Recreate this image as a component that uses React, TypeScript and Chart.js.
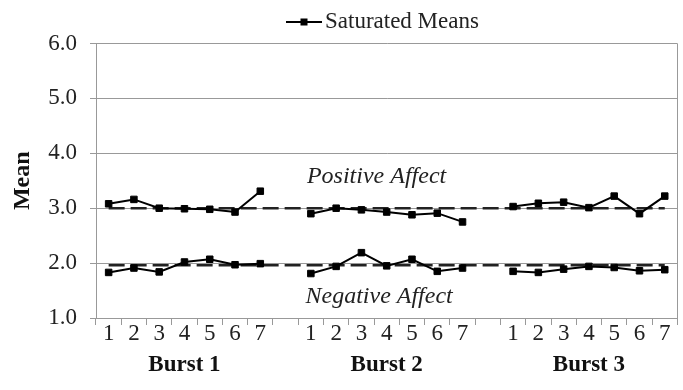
import React, { useEffect, useRef } from "react";
import { Chart, registerables } from "chart.js";

Chart.register(...registerables);

const categories = [
  "1", "2", "3", "4", "5", "6", "7", "",
  "1", "2", "3", "4", "5", "6", "7", "",
  "1", "2", "3", "4", "5", "6", "7",
];
const burstRow = [
  "", "", "", "Burst 1", "", "", "", "",
  "", "", "", "Burst 2", "", "", "", "",
  "", "", "", "Burst 3", "", "", "",
];
const yTicks = [1, 2, 3, 4, 5, 6];

const positiveBurst1 = [3.08, 3.16, 3.0, 2.99, 2.98, 2.93, 3.31];
const positiveBurst2 = [2.9, 3.0, 2.97, 2.93, 2.88, 2.91, 2.75];
const positiveBurst3 = [3.03, 3.09, 3.11, 3.01, 3.22, 2.9, 3.22];
const negativeBurst1 = [1.83, 1.91, 1.84, 2.02, 2.07, 1.97, 1.99];
const negativeBurst2 = [1.81, 1.94, 2.19, 1.95, 2.07, 1.85, 1.91];
const negativeBurst3 = [1.85, 1.83, 1.89, 1.94, 1.92, 1.86, 1.88];
const positiveReference = 3.0;
const negativeReference = 1.96;

const annotations = [
  { text: "Positive Affect", x: 10.6, y: 3.58 },
  { text: "Negative Affect", x: 10.7, y: 1.38 },
];

const FONT = "'Liberation Serif', 'Times New Roman', serif";

function joinBursts(a: number[], b: number[], c: number[]) {
  return [...a, null, ...b, null, ...c];
}

export default function App() {
  const ref = useRef<HTMLCanvasElement | null>(null);

  useEffect(() => {
    if (!ref.current) return;

    const legendImg = document.createElement("canvas");
    legendImg.width = 36;
    legendImg.height = 10;
    const lc = legendImg.getContext("2d")!;
    lc.strokeStyle = "#000";
    lc.lineWidth = 2;
    lc.beginPath();
    lc.moveTo(0, 5);
    lc.lineTo(36, 5);
    lc.stroke();
    lc.fillStyle = "#000";
    lc.fillRect(14.5, 1.5, 7, 7);

    const annotationPlugin = {
      id: "annot",
      afterDatasetsDraw(chart: any) {
        const { ctx, scales } = chart;
        ctx.save();
        ctx.font = `italic 24px ${FONT}`;
        ctx.fillStyle = "#222";
        ctx.textAlign = "center";
        ctx.textBaseline = "middle";
        annotations.forEach((a) => {
          ctx.fillText(a.text, scales.x.getPixelForValue(a.x), scales.y.getPixelForValue(a.y));
        });
        const ca = chart.chartArea;
        ctx.strokeStyle = "#999";
        ctx.lineWidth = 1;
        ctx.beginPath();
        ctx.moveTo(Math.round(ca.right) + 0.5, ca.top);
        ctx.lineTo(Math.round(ca.right) + 0.5, ca.bottom);
        ctx.stroke();
        ctx.restore();
      },
    };

    const n = categories.length;
    const chart = new Chart(ref.current, {
      type: "line",
      data: {
        labels: categories,
        datasets: [
          {
            label: "Saturated Means",
            data: joinBursts(positiveBurst1, positiveBurst2, positiveBurst3),
            borderColor: "#000",
            backgroundColor: "#000",
            borderWidth: 2,
            pointStyle: "rect",
            pointRadius: 4.6,
            pointBorderWidth: 1,
            spanGaps: false,
          },
          {
            label: "neg",
            data: joinBursts(negativeBurst1, negativeBurst2, negativeBurst3),
            borderColor: "#000",
            backgroundColor: "#000",
            borderWidth: 2,
            pointStyle: "rect",
            pointRadius: 4.6,
            pointBorderWidth: 1,
            spanGaps: false,
          },
          {
            label: "posRef",
            data: new Array(n).fill(positiveReference),
            borderColor: "#222",
            borderWidth: 2.5,
            borderDash: [16, 6],
            pointRadius: 0,
          },
          {
            label: "negRef",
            data: new Array(n).fill(negativeReference),
            borderColor: "#222",
            borderWidth: 2.5,
            borderDash: [16, 6],
            pointRadius: 0,
          },
        ],
      },
      options: {
        animation: false,
        responsive: false,
        maintainAspectRatio: false,
        layout: { padding: { left: 6, right: 5, top: 0, bottom: 8 } },
        plugins: {
          legend: {
            position: "top",
            fullSize: false,
            labels: {
              filter: (item: any) => item.datasetIndex === 0,
              usePointStyle: true,
              pointStyle: legendImg as any,
              pointStyleWidth: 19,
              boxHeight: 10,
              color: "#222",
              font: { family: FONT, size: 23 },
              padding: 10.5,
            },
          },
          tooltip: { enabled: false },
        },
        scales: {
          x: {
            type: "category",
            offset: true,
            afterFit: (scale: any) => {
              scale.height = 30;
            },
            grid: {
              offset: true,
              drawOnChartArea: false,
              drawTicks: true,
              tickLength: 7,
              color: "#999",
            },
            border: { color: "#999" },
            ticks: {
              autoSkip: false,
              maxRotation: 0,
              color: "#222",
              padding: -5,
              font: { family: FONT, size: 23 },
            },
          },
          xBurst: {
            type: "category",
            position: "bottom",
            labels: burstRow,
            offset: true,
            afterFit: (scale: any) => {
              scale.height = 34;
            },
            grid: { display: false },
            border: { display: false },
            ticks: {
              autoSkip: false,
              maxRotation: 0,
              color: "#111",
              padding: -5,
              font: { family: FONT, size: 23, weight: "bold" },
            },
          },
          y: {
            min: 1,
            max: 6,
            afterBuildTicks: (scale: any) => {
              scale.ticks = yTicks.map((v) => ({ value: v }));
            },
            afterFit: (scale: any) => {
              scale.width = 90;
            },
            grid: { color: "#999", tickLength: 6 },
            border: { color: "#999" },
            ticks: {
              color: "#222",
              padding: 13,
              font: { family: FONT, size: 23 },
              callback: (v: any) => Number(v).toFixed(1),
            },
            title: {
              display: true,
              text: "Mean",
              color: "#111",
              padding: { top: 2, bottom: 6 },
              font: { family: FONT, size: 24, weight: "bold" },
            },
          },
        },
      },
      plugins: [annotationPlugin],
    } as any);

    return () => chart.destroy();
  }, []);

  return (
    <div style={{ position: "fixed", left: 0, top: 0, width: 683, height: 390, background: "#fff" }}>
      <canvas ref={ref} width={683} height={390} style={{ width: 683, height: 390 }} />
    </div>
  );
}
